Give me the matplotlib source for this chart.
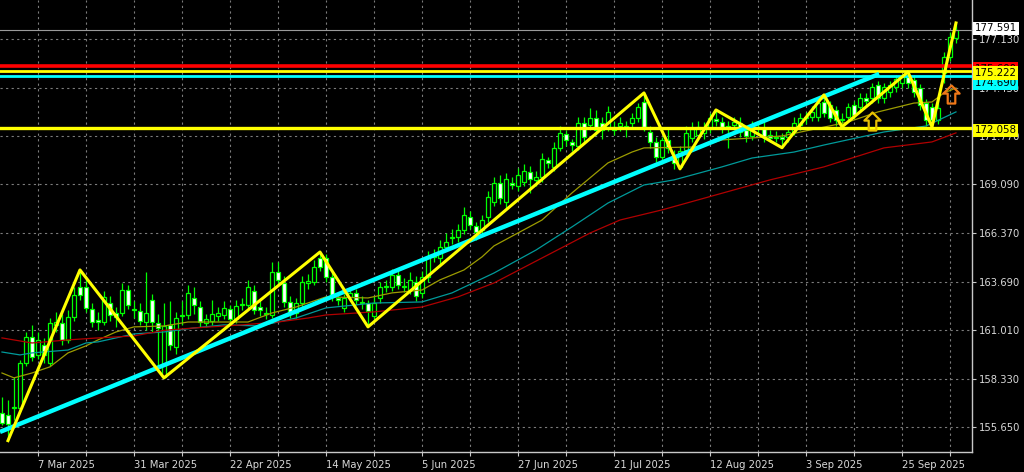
import matplotlib
matplotlib.use('Agg')
import matplotlib.pyplot as plt
import numpy as np
import pandas as pd
from matplotlib.path import Path
from matplotlib.transforms import blended_transform_factory

# daily EUR/JPY bars, 27 Feb 2025 .. 8 Oct 2025
opens = [156.43, 156.32, 156.71, 156.71, 159.20, 160.63, 159.64, 160.19, 159.20, 161.30,
         161.41, 160.47, 161.74, 163.40, 163.40, 162.18, 161.57, 161.46, 162.51, 161.96,
         161.96, 163.23, 162.18, 162.07, 161.46, 162.68, 161.41, 158.42, 161.30, 160.08,
         161.80, 161.85, 162.79, 162.29, 161.41, 161.52, 161.80, 161.85, 162.18, 161.63,
         162.40, 162.40, 163.18, 162.29, 161.91, 161.85, 164.23, 163.62, 162.57, 161.96,
         162.51, 163.62, 163.68, 165.00, 165.00, 163.95, 162.79, 162.24, 162.85, 163.07,
         162.51, 162.51, 161.80, 162.79, 163.40, 163.40, 164.06, 163.40, 163.23, 163.68,
         163.07, 163.95, 165.06, 165.00, 165.61, 166.11, 166.16, 166.55, 167.27, 166.77,
         166.55, 167.27, 168.10, 169.15, 168.10, 169.15, 168.99, 169.21, 169.76, 169.32,
         169.48, 170.42, 170.04, 171.09, 171.86, 171.42, 171.20, 172.47, 172.36, 172.75,
         172.47, 172.25, 172.25, 172.30, 172.25, 172.47, 172.75, 173.63, 171.97, 171.42,
         170.59, 171.53, 170.70, 170.04, 170.98, 171.64, 171.80, 171.92, 172.14, 172.69,
         172.52, 172.30, 172.36, 172.47, 172.08, 171.75, 172.25, 172.19, 171.80, 171.69,
         171.69, 171.69, 171.97, 172.36, 172.75, 172.80, 172.80, 173.63, 173.46, 173.19,
         172.64, 172.80, 173.46, 173.35, 173.85, 173.85, 174.57, 173.85, 174.18, 174.46,
         174.68, 175.01, 174.85, 174.40, 173.57, 173.35, 172.64, 175.23, 176.12, 177.17]
highs = [157.32, 157.15, 158.42, 159.36, 160.90, 161.30, 160.90, 160.60, 161.70, 162.00,
         161.90, 162.10, 163.40, 164.34, 163.90, 162.50, 162.00, 163.20, 162.90, 162.30,
         163.60, 163.50, 162.60, 162.50, 164.23, 163.00, 161.90, 162.51, 162.60, 162.00,
         162.60, 163.50, 163.40, 162.60, 161.90, 162.70, 162.30, 162.60, 162.40, 162.70,
         162.80, 163.80, 163.50, 162.60, 162.30, 164.80, 164.78, 164.00, 162.90, 162.80,
         164.00, 164.10, 164.90, 165.33, 165.20, 164.20, 163.10, 163.00, 163.40, 163.30,
         162.90, 162.70, 162.90, 163.70, 163.80, 164.40, 164.30, 163.90, 164.20, 164.00,
         164.30, 165.40, 165.50, 166.00, 166.40, 166.60, 166.90, 167.80, 167.60, 167.00,
         167.40, 168.70, 169.50, 169.60, 169.70, 169.50, 170.00, 170.20, 170.10, 169.80,
         170.80, 170.60, 171.40, 172.30, 172.10, 171.60, 172.80, 172.80, 173.30, 173.20,
         172.80, 173.40, 172.60, 172.80, 172.60, 173.00, 173.60, 174.13, 172.30, 171.70,
         171.70, 172.20, 171.00, 171.20, 172.30, 172.50, 172.60, 172.50, 173.00, 173.19,
         172.80, 172.60, 172.80, 172.80, 172.30, 172.60, 172.50, 172.50, 172.10, 172.00,
         171.90, 172.20, 172.80, 173.00, 173.10, 173.40, 173.80, 174.02, 173.70, 173.40,
         173.00, 173.60, 173.70, 174.10, 174.10, 174.70, 174.80, 174.70, 174.80, 175.10,
         175.20, 175.29, 175.10, 174.60, 173.80, 173.60, 173.70, 176.40, 177.50, 178.00]
lows = [155.77, 154.90, 156.05, 156.60, 159.00, 159.30, 159.40, 159.20, 159.00, 160.90,
        160.20, 160.30, 161.50, 162.70, 162.00, 161.20, 161.00, 161.30, 161.50, 161.20,
        161.80, 162.20, 161.70, 161.30, 161.00, 160.90, 158.98, 158.37, 159.90, 159.70,
        161.30, 161.60, 161.90, 161.20, 161.20, 161.30, 161.50, 161.60, 161.40, 161.40,
        162.10, 162.20, 161.90, 161.80, 161.60, 161.70, 163.50, 162.30, 161.70, 161.70,
        162.30, 163.30, 163.50, 164.30, 163.70, 162.60, 162.40, 162.00, 162.60, 162.40,
        162.20, 161.19, 161.50, 162.50, 163.10, 163.20, 163.30, 163.10, 163.00, 162.60,
        162.80, 163.70, 164.80, 164.60, 165.40, 165.80, 165.90, 166.30, 166.60, 166.00,
        166.30, 167.00, 167.90, 168.00, 167.70, 168.80, 168.70, 169.00, 168.60, 169.00,
        169.20, 170.00, 169.80, 170.90, 171.20, 170.90, 171.00, 171.40, 172.10, 171.80,
        171.60, 172.00, 171.80, 172.00, 171.70, 172.20, 172.50, 172.00, 171.10, 170.30,
        170.20, 170.80, 169.90, 169.93, 170.70, 171.40, 171.50, 171.60, 171.90, 172.30,
        171.90, 171.10, 172.10, 171.70, 171.40, 171.50, 171.90, 171.40, 171.40, 171.40,
        171.10, 171.40, 171.80, 172.10, 172.40, 172.60, 172.60, 172.80, 172.50, 172.30,
        172.25, 172.60, 172.70, 173.10, 173.40, 173.60, 173.60, 173.60, 173.90, 174.20,
        174.40, 174.40, 173.90, 173.20, 172.30, 172.25, 172.40, 174.68, 175.90, 176.90]
closes = [155.88, 155.82, 156.76, 159.20, 160.63, 159.53, 160.47, 159.64, 161.41, 161.46,
          160.47, 161.74, 162.96, 162.96, 162.24, 161.46, 161.46, 162.85, 161.85, 161.74,
          163.23, 162.40, 162.10, 161.52, 161.96, 161.46, 161.13, 161.24, 160.19, 161.68,
          161.85, 163.07, 162.40, 161.46, 161.63, 161.91, 161.96, 162.24, 161.63, 162.35,
          162.45, 163.40, 162.13, 162.13, 161.96, 164.23, 163.79, 162.57, 162.02, 162.51,
          163.68, 163.73, 164.51, 164.51, 163.95, 162.85, 162.68, 162.79, 163.07, 162.68,
          162.55, 162.07, 162.51, 163.40, 163.46, 164.06, 163.51, 163.43, 163.79, 162.90,
          163.95, 165.06, 165.17, 165.61, 165.89, 166.15, 166.55, 167.38, 166.83, 166.44,
          167.10, 168.38, 169.15, 168.32, 169.37, 169.04, 169.59, 169.81, 169.37, 169.48,
          170.48, 170.26, 171.09, 171.92, 171.53, 171.25, 172.47, 171.69, 172.75, 172.08,
          172.08, 173.08, 172.08, 172.47, 172.28, 172.75, 173.35, 172.25, 171.42, 170.59,
          171.53, 171.09, 170.26, 170.92, 171.92, 172.14, 172.25, 172.19, 172.75, 172.58,
          172.25, 172.25, 172.52, 171.97, 171.75, 172.25, 172.19, 171.69, 171.64, 171.64,
          171.58, 171.97, 172.47, 172.75, 172.78, 173.08, 173.57, 173.02, 172.75, 172.64,
          172.69, 173.35, 172.91, 173.85, 173.68, 174.46, 173.85, 174.46, 174.57, 174.90,
          175.01, 174.68, 174.18, 173.46, 172.64, 172.64, 173.30, 176.12, 177.22, 177.59]

# moving averages as read at a few bars
ma_fast_bars = [0, 2, 5, 8, 11, 14, 16, 19, 22, 27, 31, 41, 45, 49, 54, 61, 65, 70, 73, 77,
                80, 82, 90, 95, 101, 105, 107, 116, 120, 130, 141, 146, 152, 155, 157, 159]
ma_fast = [158.64, 158.37, 158.64, 158.98, 159.75, 160.14, 160.47, 160.91, 161.19, 161.24,
           161.46, 161.46, 161.96, 162.29, 162.85, 162.79, 163.07, 163.23, 163.79, 164.34,
           165.06, 165.67, 167.10, 168.60, 170.26, 170.86, 171.09, 171.14, 171.53, 171.75,
           172.52, 173.08, 173.57, 173.63, 174.13, 174.40]
ma_mid_bars = [0, 3, 5, 11, 14, 16, 22, 27, 32, 37, 43, 49, 54, 62, 70, 75, 82, 89, 95, 101,
               107, 109, 112, 120, 125, 132, 137, 147, 154, 159]
ma_mid = [159.80, 159.64, 159.75, 159.91, 160.30, 160.36, 160.80, 160.91, 161.13, 161.30,
          161.24, 161.68, 162.24, 162.51, 162.57, 163.07, 164.17, 165.44, 166.72, 168.04,
          169.04, 169.15, 169.32, 170.04, 170.53, 170.86, 171.25, 171.97, 172.30, 173.08]
ma_slow_bars = [0, 5, 11, 16, 22, 27, 32, 40, 46, 51, 54, 62, 70, 76, 82, 98, 103, 110, 128,
                137, 147, 155, 159]
ma_slow = [160.58, 160.30, 160.47, 160.58, 160.69, 161.00, 161.13, 161.30, 161.46, 161.68,
           161.85, 162.02, 162.29, 162.85, 163.62, 166.38, 167.10, 167.66, 169.32, 170.04,
           171.09, 171.42, 171.92]

# drawn objects
zigzag_bars = [1, 13, 27, 53, 61, 107, 113, 119, 130, 137, 140, 151, 155, 159]
zigzag_prices = [154.90, 164.34, 158.37, 165.33, 161.19, 174.13, 169.93, 173.19, 171.10,
                 174.02, 172.25, 175.29, 172.25, 178.00]
trend_bars = [-0.33, 146.2]
trend_prices = [155.38, 175.18]
hline_prices = [175.62, 175.37, 175.05, 172.18]
hline_colors = ['#ff0000', '#ffff00', '#00ffff', '#ffff00']
hline_widths = [2.6, 2.0, 2.0, 2.4]
bid = 177.591
arrow_bars = [145, 158.2]
arrow_prices = [172.58, 174.07]
arrow_colors = ['#e8c000', '#f07818']

y_ticks = [177.13, 174.43, 171.77, 169.09, 166.37, 163.69, 161.01, 158.33, 155.65]
# price labels on the scale, drawn in this order (later ones cover earlier ones)
price_boxes = [(175.45, '175.600', '#ff0000'), (174.66, '174.690', '#00ffff'),
               (175.222, '175.222', '#ffff00'), (172.058, '172.058', '#ffff00'),
               (177.70, '177.591', '#ffffff')]

dates = pd.bdate_range('2025-02-27', periods=len(closes))
label_bars = list(range(6, len(closes), 16))
grid_bars = list(range(14, len(closes), 16))

opens = np.array(opens)
closes = np.array(closes)
x = np.arange(len(closes))

fig = plt.figure(figsize=(10.24, 4.72), dpi=100, facecolor='black')
ax = fig.add_axes([0, 20 / 472, 972 / 1024, 452 / 472], facecolor='black')
ax.set_xlim(-0.33, 161.67)
ax.set_ylim(154.27, 179.27)

# candles
green = '#00ff00'
ax.vlines(x, lows, highs, color=green, lw=0.9, zorder=3)
up = closes >= opens
body_low = np.minimum(opens, closes)
body_h = np.maximum(np.abs(closes - opens), 0.04)
ax.bar(x, body_h, bottom=body_low, width=0.62, color=np.where(up, 'black', 'white'),
       edgecolor=green, linewidth=0.9, zorder=4)

# moving averages
ax.plot(ma_fast_bars, ma_fast, color='#9c9c00', lw=0.9, zorder=5)
ax.plot(ma_mid_bars, ma_mid, color='#009a9a', lw=0.9, zorder=5)
ax.plot(ma_slow_bars, ma_slow, color='#b00000', lw=0.9, zorder=5)

# objects
for price, col, lw in zip(hline_prices, hline_colors, hline_widths):
    ax.axhline(price, color=col, lw=lw, zorder=7)
ax.axhline(bid, color='#9a9a9a', lw=0.8, zorder=6)
ax.plot(trend_bars, trend_prices, color='#00ffff', lw=3.2, zorder=7, solid_capstyle='butt')
ax.plot(zigzag_bars, zigzag_prices, color='#ffff00', lw=2.2, zorder=8)

arrow = Path([(0, 1), (0.9, 0.1), (0.42, 0.1), (0.42, -1), (-0.42, -1), (-0.42, 0.1),
              (-0.9, 0.1), (0, 1)], closed=True)
for b, p, col in zip(arrow_bars, arrow_prices, arrow_colors):
    ax.plot([b], [p], marker=arrow, markersize=13, markerfacecolor='none',
            markeredgecolor=col, markeredgewidth=1.6, zorder=9)

# axes look
for side in ['top', 'left']:
    ax.spines[side].set_visible(False)
for side in ['right', 'bottom']:
    ax.spines[side].set_color('#c8c8c8')
    ax.spines[side].set_linewidth(1.0)

ax.yaxis.tick_right()
ax.set_yticks(y_ticks)
ax.set_yticklabels([f'{v:.3f}' for v in y_ticks])
ax.set_xticks(label_bars)
ax.set_xticklabels([f'{d.day} {d.strftime("%b %Y")}' for d in dates[label_bars]], ha='left')
ax.set_xticks(grid_bars, minor=True)
ax.tick_params(axis='both', which='both', colors='#c8c8c8', labelcolor='#d8d8d8',
               labelsize=7.2, length=3, width=0.8, pad=2)
ax.tick_params(axis='x', pad=3)
ax.xaxis.grid(True, which='both', color='#7c7c7c', linestyle=(0, (2, 3)), lw=0.8)
ax.yaxis.grid(True, which='major', color='#7c7c7c', linestyle=(0, (2, 3)), lw=0.8)
ax.set_axisbelow(True)

trans = blended_transform_factory(ax.transAxes, ax.transData)
for price, text, col in price_boxes:
    ax.text(1.0025, price, text, transform=trans, fontsize=7.4, color='black', va='center',
            ha='left', clip_on=False, zorder=20,
            bbox=dict(facecolor=col, edgecolor='none', boxstyle='square,pad=0.18'))

fig.savefig('out.png', dpi=100, facecolor='black')
